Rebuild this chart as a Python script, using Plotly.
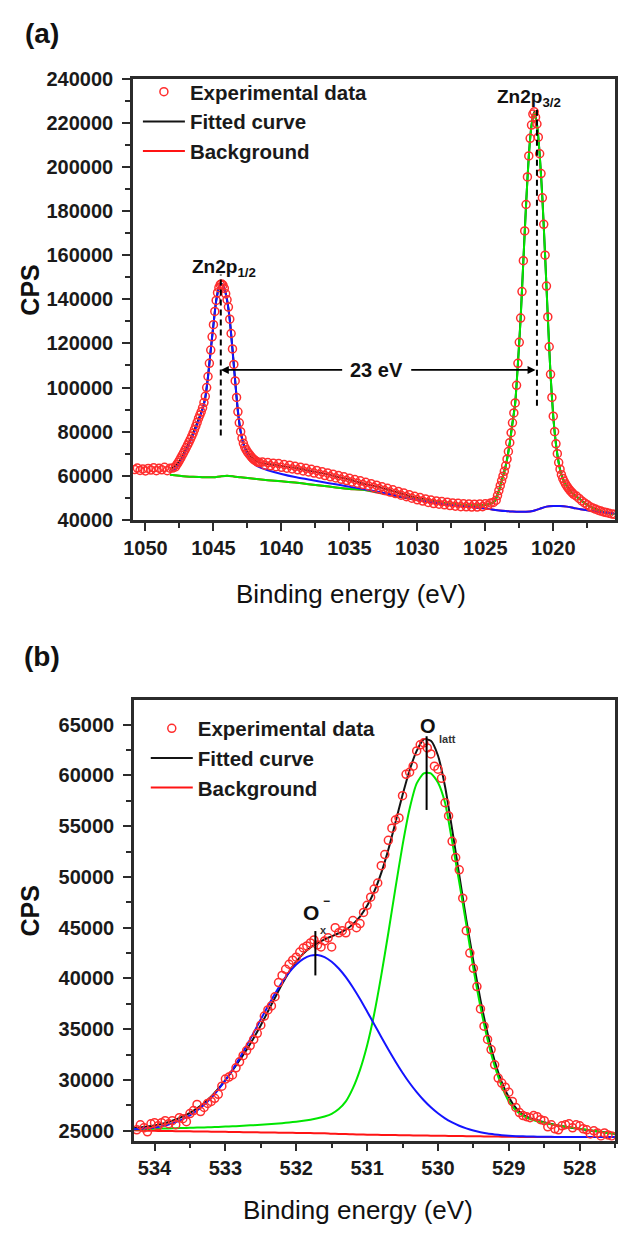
import plotly.graph_objects as go

FONT = "Arial, 'Liberation Sans', Helvetica, sans-serif"
W, H = 621, 1247

# ================= Panel (a): Zn 2p =================
energy_a1 = [1050.8, 1050.6, 1050.4, 1050.2, 1050.0, 1049.8, 1049.6, 1049.4, 1049.2, 1049.0,
             1048.8, 1048.6, 1048.4, 1048.2, 1048.0, 1047.8]
cps_a1 = [62800, 63500, 62400, 63100, 62200, 63300, 62600, 63600, 62300, 63400,
          62700, 63800, 62300, 63400, 63500, 64000]

energy_a2 = [1047.7, 1047.6, 1047.5, 1047.4, 1047.3, 1047.2, 1047.1, 1047.0, 1046.9, 1046.8,
             1046.7, 1046.6, 1046.5, 1046.4, 1046.3, 1046.2, 1046.1, 1046.0, 1045.9, 1045.8,
             1045.7, 1045.6, 1045.5, 1045.4, 1045.3, 1045.2, 1045.1, 1045.0, 1044.9, 1044.8,
             1044.7, 1044.6, 1044.5, 1044.4, 1044.3, 1044.2, 1044.1, 1044.0, 1043.9, 1043.8,
             1043.7, 1043.6, 1043.5, 1043.4, 1043.3, 1043.2, 1043.1, 1043.0, 1042.9, 1042.8,
             1042.7, 1042.6, 1042.5, 1042.4, 1042.3, 1042.2, 1042.1, 1042.0, 1041.9, 1041.8,
             1041.7, 1041.6]
cps_a2 = [65000, 66000, 67000, 68100, 69300, 70400, 71600, 72800, 74000, 75200,
          76500, 77900, 79300, 80900, 82500, 84200, 86000, 87500, 89000, 90800,
          93200, 96000, 100000, 105000, 111000, 117000, 123000, 128500, 134500, 139500,
          143000, 145300, 146700, 147000, 146400, 145000, 142500, 139800, 136500, 131000,
          124500, 117500, 110500, 103000, 95500, 89000, 84000, 80000, 77000, 74700,
          73000, 71800, 70800, 70000, 69200, 68400, 67800, 67200, 66800, 66400,
          66100, 65900]

energy_a3 = [1041.4, 1041.2, 1041.0, 1040.8, 1040.6, 1040.4, 1040.2, 1040.0, 1039.8, 1039.6,
             1039.4, 1039.2, 1039.0, 1038.8, 1038.6, 1038.4, 1038.2, 1038.0, 1037.8, 1037.6,
             1037.4, 1037.2, 1037.0, 1036.8, 1036.6, 1036.4, 1036.2, 1036.0, 1035.8, 1035.6,
             1035.4, 1035.2, 1035.0, 1034.8, 1034.6, 1034.4, 1034.2, 1034.0, 1033.8, 1033.6,
             1033.4, 1033.2, 1033.0, 1032.8, 1032.6, 1032.4, 1032.2, 1032.0, 1031.8, 1031.6,
             1031.4, 1031.2, 1031.0, 1030.8, 1030.6, 1030.4, 1030.2, 1030.0, 1029.8, 1029.6,
             1029.4, 1029.2, 1029.0, 1028.8, 1028.6, 1028.4, 1028.2, 1028.0, 1027.8, 1027.6,
             1027.4, 1027.2, 1027.0, 1026.8, 1026.6, 1026.4, 1026.2, 1026.0, 1025.8, 1025.6,
             1025.4, 1025.2, 1025.0, 1024.8, 1024.6, 1024.4, 1024.2]
cps_a3 = [66200, 64800, 66000, 64500, 65700, 64100, 65500, 63800, 65100, 63400,
          64800, 63100, 64300, 62700, 63900, 62200, 63400, 61700, 62900, 61200,
          62400, 60700, 61800, 60100, 61300, 59500, 60700, 59000, 60100, 58400,
          59500, 57800, 58900, 57200, 58300, 56600, 57700, 56000, 57000, 55400,
          56400, 54700, 55700, 54100, 55000, 53300, 54300, 52600, 53600, 51900,
          52900, 51200, 52200, 50500, 51400, 49800, 50700, 49100, 50100, 48500,
          49500, 47900, 49000, 47400, 48600, 47100, 48300, 46800, 48000, 46500,
          47700, 46200, 47500, 46000, 47300, 45900, 47200, 45800, 47100, 45800,
          47200, 46000, 47300, 46600, 47700, 47900, 48900]

energy_a4 = [1024.1, 1024.0, 1023.9, 1023.8, 1023.7, 1023.6, 1023.5, 1023.4, 1023.3, 1023.2,
             1023.1, 1023.0, 1022.9, 1022.8, 1022.7, 1022.6, 1022.5, 1022.4, 1022.3, 1022.2,
             1022.1, 1022.0, 1021.9, 1021.8, 1021.7, 1021.6, 1021.5, 1021.4, 1021.3, 1021.2,
             1021.1, 1021.0, 1020.9, 1020.8, 1020.7, 1020.6, 1020.5, 1020.4, 1020.3, 1020.2,
             1020.1, 1020.0, 1019.9, 1019.8, 1019.7, 1019.6, 1019.5, 1019.4, 1019.3, 1019.2,
             1019.1, 1019.0, 1018.9, 1018.8, 1018.7, 1018.6, 1018.5]
cps_a4 = [51000, 53300, 55500, 57700, 59800, 62000, 64500, 67500, 71000, 75000,
          79500, 84000, 88500, 93000, 101000, 111000, 120500, 131500, 143500, 157500,
          171000, 183000, 195500, 205000, 213000, 219000, 224000, 225000, 222500, 219500,
          213500, 206000, 197000, 186000, 174000, 160000, 146000, 132000, 118500, 106000,
          95500, 87000, 80000, 74500, 70000, 66000, 63000, 60500, 58800, 57500,
          56300, 55300, 54400, 53600, 52900, 52200, 51600]

energy_a5 = [1018.3, 1018.1, 1017.9, 1017.7, 1017.5, 1017.3, 1017.1, 1016.9, 1016.7, 1016.5,
             1016.3, 1016.1, 1015.9, 1015.7, 1015.5]
cps_a5 = [50800, 49700, 48600, 47700, 46900, 46000, 45400, 44900, 44400, 44000,
          43600, 43300, 43000, 42700, 42500]

fit_energy_a = [1048.2, 1047.8, 1047.4, 1047.0, 1046.6, 1046.2, 1045.8, 1045.6, 1045.4, 1045.2,
                1045.0, 1044.8, 1044.6, 1044.4, 1044.2, 1044.0, 1043.8, 1043.6, 1043.4, 1043.2,
                1043.0, 1042.8, 1042.6, 1042.4, 1042.0, 1041.5, 1041.0, 1040.0, 1039.0, 1038.0,
                1037.0, 1036.0, 1035.0, 1034.0, 1033.0, 1032.0, 1031.0, 1030.0, 1029.0, 1028.0,
                1027.0, 1026.0, 1025.0, 1024.6, 1024.3, 1024.0, 1023.8, 1023.6, 1023.4, 1023.2,
                1023.0, 1022.8, 1022.6, 1022.4, 1022.2, 1022.0, 1021.8, 1021.6, 1021.4, 1021.2,
                1021.0, 1020.8, 1020.6, 1020.4, 1020.2, 1020.0, 1019.8, 1019.6, 1019.4, 1019.2,
                1019.0, 1018.6, 1018.2, 1017.8, 1017.4, 1017.0, 1016.6, 1016.2, 1015.8, 1015.5]
fit_a = [63000, 64500, 67600, 72500, 78000, 84000, 90500, 95500, 105000, 117000,
         128500, 139500, 145300, 147000, 145000, 139800, 131000, 117500, 103000, 89000,
         80000, 74700, 71800, 70000, 67200, 65800, 65300, 64400, 63600, 62400,
         61200, 59700, 58300, 56500, 55100, 53400, 51600, 49900, 48700, 47500,
         46900, 46500, 46700, 47400, 48500, 53300, 57700, 62000, 67500, 75000,
         84000, 93000, 111000, 131500, 157500, 183000, 205000, 219000, 225000, 219500,
         206000, 186000, 160000, 132000, 106000, 87000, 74500, 66000, 60500, 57500,
         55300, 52200, 50200, 48200, 46500, 45200, 44200, 43500, 43000, 42700]

green_energy_a = [1048.2, 1047.5, 1047.0, 1046.5, 1046.0, 1045.5, 1045.0, 1044.5, 1044.0, 1043.5,
                  1043.0, 1042.0, 1041.0, 1040.0, 1039.0, 1038.0, 1037.0, 1036.0, 1035.0, 1034.0,
                  1033.0, 1032.0, 1031.0, 1030.0, 1029.0, 1028.0, 1027.0, 1026.0, 1025.5, 1025.0,
                  1024.6, 1024.3, 1024.0, 1023.8, 1023.6, 1023.4, 1023.2, 1023.0, 1022.8, 1022.6,
                  1022.4, 1022.2, 1022.0, 1021.8, 1021.6, 1021.4, 1021.2, 1021.0, 1020.8, 1020.6,
                  1020.4, 1020.2, 1020.0, 1019.8, 1019.6, 1019.4, 1019.2, 1019.0, 1018.6, 1018.2,
                  1017.8, 1017.4, 1017.0, 1016.6, 1016.2, 1015.8, 1015.5]
green_a = [60500, 60000, 59700, 59500, 59400, 59300, 59300, 59700, 60000, 59700,
           59300, 58600, 58000, 57500, 56900, 56200, 55500, 54700, 54000, 53700,
           52700, 51500, 50400, 49300, 48400, 47600, 47000, 46600, 46600, 46900,
           47500, 48500, 53000, 57400, 61700, 67200, 74700, 83700, 92700, 110700,
           131200, 157200, 182700, 204700, 218700, 224700, 219200, 205700, 185700, 159700,
           131700, 105700, 86700, 74200, 65700, 60200, 57200, 55000, 52000, 50000,
           48000, 46300, 45000, 44000, 43300, 42800, 42500]

blue_energy_a = [1048.2, 1047.8, 1047.4, 1047.0, 1046.6, 1046.3, 1046.0, 1045.8, 1045.6, 1045.4,
                 1045.2, 1045.0, 1044.8, 1044.6, 1044.4, 1044.2, 1044.0, 1043.8, 1043.6, 1043.4,
                 1043.2, 1043.0, 1042.8, 1042.6, 1042.4, 1042.0, 1041.5, 1041.0, 1040.0, 1039.0,
                 1038.0, 1037.0, 1036.0, 1035.0, 1034.0, 1033.0, 1032.0, 1031.0, 1030.0, 1029.0,
                 1028.0, 1027.0, 1026.0, 1025.0, 1024.5, 1024.0, 1023.5, 1023.0, 1022.5, 1022.0,
                 1021.5, 1021.0, 1020.5, 1020.0, 1019.5, 1019.0, 1018.5, 1018.0, 1017.5, 1017.0,
                 1016.5, 1016.0, 1015.5]
blue_a = [61800, 63200, 66500, 71500, 77000, 81500, 86500, 90000, 95500, 105000,
          117000, 128500, 139000, 145000, 146800, 145000, 139500, 130500, 117000, 102500,
          89500, 80000, 74200, 70800, 68300, 65300, 63600, 62500, 60800, 59400,
          58300, 57200, 56100, 55000, 54000, 52900, 51600, 50300, 49100, 48100,
          47100, 46400, 45800, 45200, 44700, 44300, 44000, 43800, 43650, 43650,
          44000, 45000, 46000, 46300, 46300, 46000, 45400, 44800, 44300, 43900,
          43500, 43200, 42900]

bg_energy_a = [1048.2, 1047.5, 1047.0, 1046.5, 1046.0, 1045.5, 1045.0, 1044.5, 1044.0, 1043.5,
               1043.0, 1042.0, 1041.0, 1040.0, 1039.0, 1038.0, 1037.0, 1036.0, 1035.0, 1034.0,
               1033.0, 1032.0, 1031.0, 1030.0, 1029.0, 1028.0, 1027.0, 1026.0, 1025.0, 1024.5,
               1024.0, 1023.5, 1023.0, 1022.5, 1022.0, 1021.5, 1021.0, 1020.5, 1020.0, 1019.5,
               1019.0, 1018.5, 1018.0, 1017.5, 1017.0, 1016.5, 1016.0, 1015.5]
bg_a = [60500, 60000, 59700, 59500, 59400, 59300, 59300, 59700, 60000, 59700,
        59300, 58600, 58000, 57500, 56900, 56200, 55500, 54700, 54000, 53600,
        52400, 51200, 50000, 48900, 47900, 47000, 46300, 45700, 45100, 44700,
        44300, 44000, 43800, 43650, 43650, 44000, 45000, 46000, 46300, 46300,
        46000, 45400, 44800, 44300, 43900, 43500, 43200, 42900]

# peak markers (a)
peak_pos_a = [1044.46, 1021.2]
peak_top_a = [151300, 226000]
peak_bottom_a = [78300, 91700]
split_arrow_y = 108000
split_label_pos = 1032.99
split_gap_a = [1035.42, 1030.56]
arrow_tip_a = [1044.46, 1021.3]

# ================= Panel (b): O 1s =================
energy_b1 = [534.25, 534.2, 534.15, 534.1, 534.05, 534.0, 533.95, 533.9, 533.85, 533.8,
             533.75, 533.7, 533.65, 533.6, 533.55, 533.5, 533.45, 533.4, 533.35, 533.3,
             533.25, 533.2, 533.15, 533.1, 533.05, 533.0, 532.95, 532.9, 532.85, 532.8,
             532.75, 532.7, 532.65, 532.6, 532.55, 532.5, 532.45, 532.4, 532.35, 532.3,
             532.25, 532.2, 532.15, 532.1, 532.05, 532.0]
cps_b1 = [25100, 25600, 25300, 24900, 25700, 25800, 25500, 25800, 26000, 25700,
          26000, 25600, 26300, 26200, 25900, 26700, 27000, 27600, 26900, 27300,
          27700, 27900, 28200, 28600, 29400, 30100, 30300, 30500, 31200, 31800,
          32400, 32900, 33400, 34000, 34600, 35400, 36300, 36900, 37300, 38200,
          39600, 40300, 40900, 41400, 41800, 42100]

energy_b2 = [531.95, 531.9, 531.85, 531.8, 531.75, 531.7, 531.65, 531.6, 531.55, 531.5,
             531.45, 531.4, 531.35, 531.3, 531.25, 531.2, 531.15, 531.1, 531.05, 531.0,
             530.95, 530.9, 530.85, 530.8, 530.75, 530.7, 530.65, 530.6, 530.55, 530.5,
             530.45, 530.4, 530.35, 530.3, 530.25, 530.2, 530.15, 530.1, 530.05, 530.0,
             529.95, 529.9, 529.85, 529.8, 529.75, 529.7]
cps_b2 = [42600, 43000, 43200, 43500, 43800, 43300, 43100, 43700, 44000, 43100,
          45000, 44500, 44700, 44500, 45200, 45700, 45000, 45400, 46500, 47200,
          48000, 48800, 49400, 51100, 52200, 53600, 54800, 55600, 55800, 58000,
          60100, 60300, 60900, 62400, 63000, 63200, 62700, 62100, 60900, 60600,
          59700, 57300, 56000, 53500, 51900, 50700]

energy_b3 = [529.65, 529.6, 529.55, 529.5, 529.45, 529.4, 529.35, 529.3, 529.25, 529.2,
             529.15, 529.1, 529.05, 529.0, 528.95, 528.9, 528.85, 528.8, 528.75, 528.7,
             528.65, 528.6, 528.55, 528.5, 528.45, 528.4, 528.35, 528.3, 528.25, 528.2,
             528.15, 528.1, 528.05, 528.0, 527.95, 527.9, 527.85, 527.8, 527.75, 527.7,
             527.65, 527.6, 527.55]
cps_b3 = [47900, 44700, 42500, 41000, 39200, 37000, 35300, 34000, 33000, 31500,
          30200, 29700, 29300, 28800, 27900, 27300, 26800, 26500, 26400, 26300,
          26500, 26400, 26100, 26000, 25400, 25600, 25200, 25100, 25500, 25600,
          25700, 25300, 25600, 25500, 25200, 25100, 24700, 25000, 24800, 24500,
          24800, 24600, 24500]

curve_energy_b = [534.3, 534.2, 534.1, 534.0, 533.9, 533.8, 533.7, 533.6, 533.5, 533.4,
                  533.3, 533.2, 533.1, 533.0, 532.9, 532.8, 532.7, 532.6, 532.5, 532.4,
                  532.3, 532.2, 532.1, 532.0, 531.9, 531.8, 531.7, 531.6, 531.5, 531.4,
                  531.3, 531.2, 531.1, 531.0, 530.9, 530.8, 530.7, 530.6, 530.5, 530.4,
                  530.3, 530.2, 530.1, 530.0, 529.9, 529.8, 529.7, 529.6, 529.5, 529.4,
                  529.3, 529.2, 529.1, 529.0, 528.9, 528.8, 528.7, 528.6, 528.5, 528.4,
                  528.3, 528.2, 528.1, 528.0, 527.9, 527.8, 527.7, 527.6, 527.5]
fit_b = [25250, 25320, 25420, 25540, 25690, 25880, 26120, 26420, 26780, 27220,
         27750, 28380, 29150, 30000, 30950, 31950, 33000, 34150, 35400, 36750,
         38100, 39450, 40650, 41650, 42450, 43050, 43500, 43850, 44150, 44450,
         44800, 45350, 46100, 47150, 48550, 50400, 52700, 55350, 58050, 60500,
         62400, 63550, 63400, 61950, 58900, 54700, 50200, 45800, 41700, 37900,
         34600, 31900, 29800, 28300, 27250, 26600, 26250, 26050, 25850, 25680,
         25520, 25400, 25290, 25180, 25080, 24980, 24880, 24790, 24720]
ox_b = [25160, 25200, 25260, 25340, 25460, 25630, 25860, 26160, 26530, 27000,
        27570, 28250, 29060, 29980, 31020, 32160, 33390, 34670, 35980, 37260,
        38500, 39620, 40600, 41380, 41940, 42250, 42310, 42110, 41650, 40980,
        40130, 39110, 37980, 36750, 35500, 34240, 33010, 31830, 30720, 29710,
        28810, 28010, 27320, 26730, 26230, 25830, 25500, 25240, 25030, 24870,
        24740, 24650, 24575, 24520, 24480, 24460, 24440, 24430, 24420, 24410,
        24400, 24400, 24400, 24400, 24400, 24400, 24400, 24400, 24400]
olatt_b = [25150, 25160, 25180, 25200, 25220, 25240, 25260, 25280, 25300, 25320,
           25340, 25360, 25390, 25420, 25450, 25480, 25520, 25560, 25600, 25650,
           25700, 25760, 25830, 25900, 25990, 26100, 26240, 26420, 26680, 27150,
           27900, 29200, 31000, 33400, 36500, 40300, 44500, 48900, 53100, 56700,
           59200, 60200, 60200, 59300, 57300, 53500, 49500, 45300, 41000, 37200,
           34000, 31400, 29400, 27900, 27000, 26500, 26150, 25950, 25800, 25650,
           25500, 25400, 25300, 25200, 25100, 25000, 24900, 24800, 24750]
bg_b = [25050, 25040, 25020, 25000, 24990, 24980, 24970, 24960, 24950, 24940,
        24930, 24920, 24910, 24900, 24890, 24880, 24870, 24860, 24850, 24840,
        24830, 24820, 24810, 24800, 24790, 24780, 24770, 24760, 24720, 24700,
        24680, 24660, 24640, 24620, 24610, 24600, 24590, 24580, 24570, 24560,
        24550, 24540, 24530, 24520, 24510, 24500, 24490, 24480, 24470, 24460,
        24450, 24440, 24430, 24420, 24410, 24400, 24400, 24400, 24400, 24400,
        24400, 24400, 24400, 24400, 24400, 24400, 24400, 24400, 24400]

# peak markers (b)
ox_pos, ox_top, ox_bottom = 531.73, 44670, 40300
olatt_pos, olatt_top, olatt_bottom = 530.16, 63840, 56590

energy_a = energy_a1 + energy_a2 + energy_a3 + energy_a4 + energy_a5
cps_a = cps_a1 + cps_a2 + cps_a3 + cps_a4 + cps_a5
energy_b = energy_b1 + energy_b2 + energy_b3
cps_b = cps_b1 + cps_b2 + cps_b3
for xs, ys in [(energy_a, cps_a), (fit_energy_a, fit_a), (green_energy_a, green_a),
               (blue_energy_a, blue_a), (bg_energy_a, bg_a), (energy_b, cps_b),
               (curve_energy_b, fit_b), (curve_energy_b, ox_b), (curve_energy_b, olatt_b),
               (curve_energy_b, bg_b)]:
    assert len(xs) == len(ys), (len(xs), len(ys))

RED_MK = "rgb(255,45,45)"
BLUE = "rgb(20,20,255)"
GREEN = "rgb(0,230,0)"
BLACK = "rgb(20,20,20)"
BGRED = "rgb(255,20,20)"

fig = go.Figure()


def line_trace(x, y, color, xa, ya, name=None, legend=None, rank=None, show=False):
    return go.Scatter(x=x, y=y, mode="lines", line=dict(color=color, width=2, shape="spline", smoothing=0.6),
                      xaxis=xa, yaxis=ya, name=name, showlegend=show,
                      legend=legend, legendrank=rank, hoverinfo="skip")


MARKER = dict(symbol="circle-open", size=8, color=RED_MK, line=dict(width=1.5, color=RED_MK))

# panel (a)
fig.add_trace(line_trace(bg_energy_a, bg_a, BGRED, "x", "y", "Background", "legend", 3, True))
fig.add_trace(line_trace(fit_energy_a, fit_a, BLACK, "x", "y", "Fitted curve", "legend", 2, True))
fig.add_trace(line_trace(green_energy_a, green_a, GREEN, "x", "y"))
fig.add_trace(line_trace(blue_energy_a, blue_a, BLUE, "x", "y"))
fig.add_trace(go.Scatter(x=energy_a, y=cps_a, mode="markers", xaxis="x", yaxis="y", marker=MARKER,
                         name="Experimental data", legend="legend", legendrank=1, showlegend=True))

# panel (b)
fig.add_trace(line_trace(curve_energy_b, bg_b, BGRED, "x2", "y2", "Background", "legend2", 3, True))
fig.add_trace(line_trace(curve_energy_b, fit_b, BLACK, "x2", "y2", "Fitted curve", "legend2", 2, True))
fig.add_trace(line_trace(curve_energy_b, olatt_b, GREEN, "x2", "y2"))
fig.add_trace(line_trace(curve_energy_b, ox_b, BLUE, "x2", "y2"))
fig.add_trace(go.Scatter(x=energy_b, y=cps_b, mode="markers", xaxis="x2", yaxis="y2", marker=MARKER,
                         name="Experimental data", legend="legend2", legendrank=1, showlegend=True))

AX_COLOR = "#2b2b2b"
TICKFONT = dict(family=FONT, size=20, color="#1a1a1a", weight="bold")


def frame_axis(**kw):
    d = dict(showline=True, linewidth=2.5, linecolor=AX_COLOR, mirror=True,
             ticks="outside", ticklen=8, tickwidth=2, tickcolor=AX_COLOR,
             showgrid=False, zeroline=False, tickfont=TICKFONT, fixedrange=True)
    d.update(kw)
    return d


def minor(dt, t0):
    return dict(dtick=dt, tick0=t0, ticks="outside", ticklen=5, tickwidth=2, tickcolor=AX_COLOR, showgrid=False)


def px_x(p):
    return p / W


def px_y(p):
    return 1 - p / H


LEGFONT = dict(family=FONT, size=20.5, color="#1a1a1a", weight="bold")

fig.update_layout(
    width=W, height=H,
    margin=dict(l=0, r=0, t=0, b=0),
    paper_bgcolor="white", plot_bgcolor="white",
    xaxis=frame_axis(domain=[px_x(125), px_x(615)], range=[1050.92, 1015.45], anchor="y",
                     tick0=1050, dtick=5, minor=minor(2.5, 1050)),
    yaxis=frame_axis(domain=[px_y(518), px_y(69)], range=[40000, 240000], anchor="x",
                     tick0=0, dtick=20000, tickformat="d", minor=minor(10000, 0), ticklabelstandoff=5),
    xaxis2=frame_axis(domain=[px_x(126), px_x(615)], range=[534.29, 527.5], anchor="y2",
                      tick0=528, dtick=1, minor=minor(0.5, 528)),
    yaxis2=frame_axis(domain=[px_y(1150), px_y(701)], range=[24030, 67450], anchor="x2",
                      tick0=0, dtick=5000, tickformat="d", minor=minor(2500, 0), ticklabelstandoff=5),
    legend=dict(x=px_x(130), y=px_y(62), xanchor="left", yanchor="top", bgcolor="rgba(0,0,0,0)",
                font=LEGFONT, itemwidth=42, tracegroupgap=0),
    legend2=dict(x=px_x(138), y=px_y(710), xanchor="left", yanchor="top", bgcolor="rgba(0,0,0,0)",
                 font=LEGFONT, itemwidth=42, tracegroupgap=0),
    showlegend=True,
)

shapes = []
for pos, top, bot in zip(peak_pos_a, peak_top_a, peak_bottom_a):
    shapes.append(dict(type="line", xref="x", yref="y", x0=pos, x1=pos, y0=bot, y1=top,
                       line=dict(color="black", width=2, dash="6px,4px")))
shapes.append(dict(type="line", xref="x2", yref="y2", x0=ox_pos, x1=ox_pos, y0=ox_bottom, y1=ox_top,
                   line=dict(color="black", width=2)))
shapes.append(dict(type="line", xref="x2", yref="y2", x0=olatt_pos, x1=olatt_pos, y0=olatt_bottom, y1=olatt_top,
                   line=dict(color="black", width=2)))
fig.update_layout(shapes=shapes)


def paper_text(text, xc, yc, size, angle=0, color="#111"):
    return dict(text=text, x=px_x(xc), y=px_y(yc), xref="paper", yref="paper", showarrow=False,
                xanchor="center", yanchor="middle", textangle=angle,
                font=dict(family=FONT, size=size, color=color))


ann = []
ann.append(paper_text("<b>(a)</b>", 33, 23, 28))
ann.append(paper_text("<b>(b)</b>", 33, 657, 28))
for yc in (284, 916):
    ann.append(paper_text("<b>CPS</b>", 20, yc, 25, angle=-90))
for xc, yc in ((347, 593), (354, 1221)):
    ann.append(paper_text("Binding energy (eV)", xc, yc, 26))

# peak labels (a)
ann.append(dict(text="<b>Zn2p<sub>1/2</sub></b>", x=1046.72, y=154000, xref="x", yref="y", xanchor="left",
                yanchor="middle", showarrow=False, font=dict(family=FONT, size=19, color="#111")))
ann.append(dict(text="<b>Zn2p<sub>3/2</sub></b>", x=1024.25, y=231500, xref="x", yref="y", xanchor="left",
                yanchor="middle", showarrow=False, font=dict(family=FONT, size=19, color="#111")))
# 23 eV splitting arrows
for tip, tail in zip(arrow_tip_a, split_gap_a):
    ann.append(dict(text="", x=tip, y=split_arrow_y, ax=tail, ay=split_arrow_y,
                    xref="x", yref="y", axref="x", ayref="y", showarrow=True, arrowhead=2, arrowsize=1,
                    arrowwidth=1.6, arrowcolor="black", standoff=0, startstandoff=0))
ann.append(dict(text="<b>23 eV</b>", x=split_label_pos, y=split_arrow_y, xref="x", yref="y", showarrow=False,
                xanchor="center", yanchor="middle", font=dict(family=FONT, size=20, color="#111")))
# peak labels (b)
for text, xv, yv, size, col in (("<b>O</b>", 531.79, 46470, 21, "#111"),
                                ("<b>−</b>", 531.57, 47600, 12, "#111"),
                                ("<b>x</b>", 531.61, 44820, 11, "#333"),
                                ("<b>O</b>", 530.14, 64840, 20, "#111"),
                                ("<b>latt</b>", 529.86, 63580, 11, "#333")):
    ann.append(dict(text=text, x=xv, y=yv, xref="x2", yref="y2", showarrow=False,
                    xanchor="center", yanchor="middle", font=dict(family=FONT, size=size, color=col)))
fig.update_layout(annotations=ann)

fig.write_html("out.html", config={"displayModeBar": False},
               post_script="document.body.style.margin='0px';")
